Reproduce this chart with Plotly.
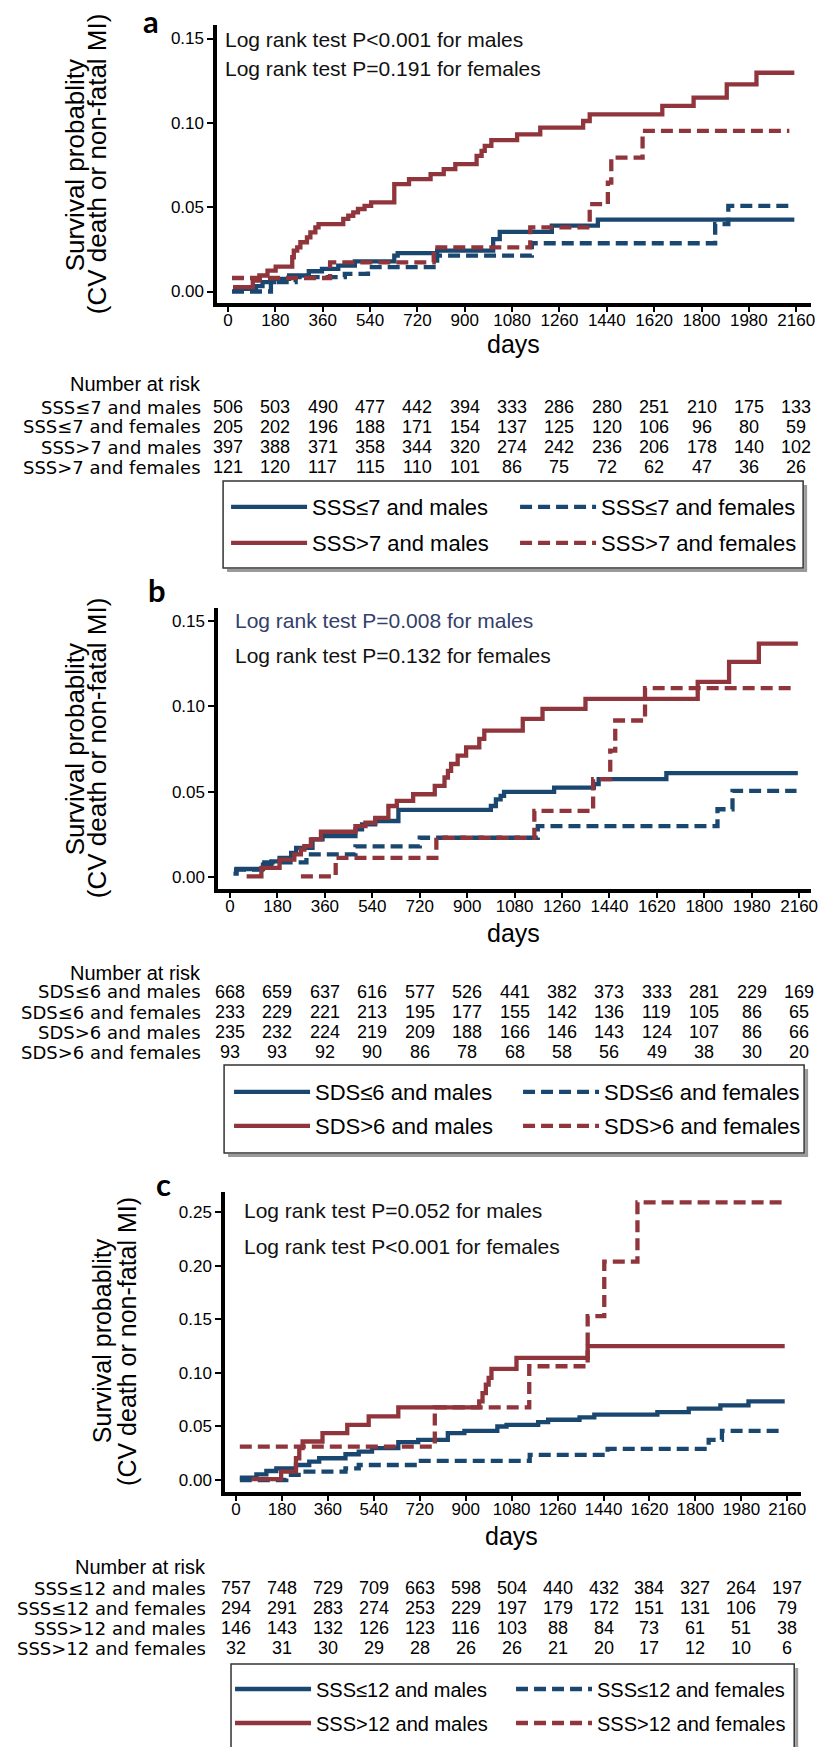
import plotly.graph_objects as go

W, H = 825, 1747
FONT = "Liberation Sans, Arial, sans-serif"
WIDEFONT = "DejaVu Sans, Liberation Sans, sans-serif"
BLUE = "#1a476f"
RED = "#90353b"
DASH = "12px,6px"

# ---------------- data ----------------
day_ticks = [0, 180, 360, 540, 720, 900, 1080, 1260, 1440, 1620, 1800, 1980, 2160]

# Panel a (SSS 7)
a_names = ["SSS≤7 and males", "SSS≤7 and females", "SSS>7 and males", "SSS>7 and females"]
a_lm_days = [19, 106, 131, 175, 232, 307, 357, 419, 482, 632, 645, 795, 1008, 1033, 1231, 1406, 2153]
a_lm_vals = [0.0016, 0.0032, 0.0055, 0.0075, 0.0095, 0.012, 0.0134, 0.0154, 0.0179, 0.0213, 0.0227, 0.0242, 0.0311, 0.0354, 0.039, 0.0426, 0.0426]
a_lf_days = [15, 163, 257, 444, 532, 795, 1155, 1852, 1902, 2134]
a_lf_vals = [0.0, 0.0055, 0.0085, 0.0104, 0.0144, 0.0213, 0.0286, 0.040, 0.0508, 0.0508]
a_hm_days = [19, 94, 119, 150, 181, 244, 250, 263, 275, 300, 313, 332, 344, 438, 457, 476, 494, 519, 544,
             632, 688, 770, 820, 864, 945, 964, 976, 1001, 1099, 1187, 1350, 1375, 1651, 1770, 1896, 2009, 2153]
a_hm_vals = [0.0026, 0.0065, 0.0095, 0.0124, 0.0148, 0.0203, 0.0242, 0.0262, 0.0292, 0.0321, 0.0351, 0.038,
             0.040, 0.043, 0.0449, 0.0469, 0.0489, 0.0508, 0.0528, 0.0637, 0.0666, 0.0696, 0.0725, 0.0755,
             0.0804, 0.0834, 0.0863, 0.0897, 0.0932, 0.0972, 0.1011, 0.105, 0.110, 0.1149, 0.1228, 0.1297, 0.1297]
a_hf_days = [15, 388, 782, 1149, 1375, 1444, 1457, 1576, 2134]
a_hf_vals = [0.008, 0.0173, 0.0262, 0.038, 0.0518, 0.0646, 0.0794, 0.0952, 0.0952]
a_risk = [
    [506, 503, 490, 477, 442, 394, 333, 286, 280, 251, 210, 175, 133],
    [205, 202, 196, 188, 171, 154, 137, 125, 120, 106, 96, 80, 59],
    [397, 388, 371, 358, 344, 320, 274, 242, 236, 206, 178, 140, 102],
    [121, 120, 117, 115, 110, 101, 86, 75, 72, 62, 47, 36, 26],
]
a_tests = ["Log rank test P<0.001 for males", "Log rank test P=0.191 for females"]

# Panel b (SDS 6)
b_names = ["SDS≤6 and males", "SDS≤6 and females", "SDS>6 and males", "SDS>6 and females"]
b_lm_days = [13, 25, 125, 157, 188, 232, 251, 313, 351, 476, 501, 551, 639, 990, 1009, 1027, 1040, 1230, 1381, 1399, 1656, 2155]
b_lm_vals = [0.002, 0.0047, 0.0073, 0.0092, 0.0112, 0.0141, 0.0171, 0.022, 0.024, 0.0279, 0.0308, 0.0328, 0.0393,
             0.0416, 0.0455, 0.0475, 0.0499, 0.0524, 0.0544, 0.0573, 0.0609, 0.0609]
b_lf_days = [15, 130, 290, 476, 720, 1168, 1850, 1907, 2150]
b_lf_vals = [0.0043, 0.0086, 0.0132, 0.018, 0.023, 0.0298, 0.0397, 0.0505, 0.0505]
b_hm_days = [63, 119, 188, 244, 269, 282, 307, 345, 476, 514, 551, 601, 633, 695, 777, 814, 827, 839, 864, 896,
             946, 965, 1111, 1186, 1349, 1775, 1894, 2007, 2155]
b_hm_vals = [0.0004, 0.0053, 0.0102, 0.0132, 0.0161, 0.0181, 0.022, 0.0265, 0.0298, 0.0318, 0.0347, 0.0416,
             0.0446, 0.0485, 0.0534, 0.0583, 0.0622, 0.0662, 0.0711, 0.076, 0.0809, 0.0858, 0.0927, 0.0985,
             0.1044, 0.1143, 0.126, 0.1368, 0.1368]
b_hf_days = [269, 401, 783, 1155, 1378, 1443, 1462, 1575, 2150]
b_hf_vals = [0.0004, 0.0112, 0.023, 0.0387, 0.0573, 0.074, 0.0917, 0.1107, 0.1107]
b_risk = [
    [668, 659, 637, 616, 577, 526, 441, 382, 373, 333, 281, 229, 169],
    [233, 229, 221, 213, 195, 177, 155, 142, 136, 119, 105, 86, 65],
    [235, 232, 224, 219, 209, 188, 166, 146, 143, 124, 107, 86, 66],
    [93, 93, 92, 90, 86, 78, 68, 58, 56, 49, 38, 30, 20],
]
b_tests = ["Log rank test P=0.008 for males", "Log rank test P=0.132 for females"]

# Panel c (SSS 12)
c_names = ["SSS≤12 and males", "SSS≤12 and females", "SSS>12 and males", "SSS>12 and females"]
c_lm_days = [15, 80, 119, 158, 235, 287, 326, 429, 481, 533, 636, 714, 830, 895, 1024, 1060, 1184, 1223, 1346,
             1404, 1651, 1774, 1898, 2008, 2150]
c_lm_vals = [0.0022, 0.0053, 0.0084, 0.0109, 0.014, 0.0172, 0.0203, 0.024, 0.0265, 0.0297, 0.0353, 0.0375,
             0.0437, 0.0459, 0.0499, 0.0515, 0.054, 0.0562, 0.0584, 0.0609, 0.0634, 0.0665, 0.0696, 0.0733, 0.0733]
c_lf_days = [15, 197, 261, 429, 481, 714, 1151, 1456, 1852, 1904, 2140]
c_lf_vals = [0.0, 0.0047, 0.0078, 0.0109, 0.014, 0.0178, 0.0234, 0.029, 0.0375, 0.0459, 0.0459]
c_hm_days = [61, 177, 235, 248, 261, 339, 436, 520, 636, 953, 966, 979, 990, 1001, 1099, 1378, 2150]
c_hm_vals = [0.0009, 0.0078, 0.0203, 0.0297, 0.0359, 0.0437, 0.0515, 0.0593, 0.0677, 0.0733, 0.0811, 0.089,
             0.0952, 0.1036, 0.1139, 0.1248, 0.1248]
c_hf_days = [15, 779, 1149, 1378, 1443, 1573, 2150]
c_hf_vals = [0.0312, 0.0677, 0.1061, 0.1529, 0.2038, 0.259, 0.259]
c_risk = [
    [757, 748, 729, 709, 663, 598, 504, 440, 432, 384, 327, 264, 197],
    [294, 291, 283, 274, 253, 229, 197, 179, 172, 151, 131, 106, 79],
    [146, 143, 132, 126, 123, 116, 103, 88, 84, 73, 61, 51, 38],
    [32, 31, 30, 29, 28, 26, 26, 21, 20, 17, 12, 10, 6],
]
c_tests = ["Log rank test P=0.052 for males", "Log rank test P<0.001 for females"]

y_ticks_ab = [0, 0.05, 0.10, 0.15]
y_ticks_c = [0, 0.05, 0.10, 0.15, 0.20, 0.25]

# ---------------- layout geometry (pixels) ----------------
panels = [
    dict(letter="a", names=a_names, series=[(a_lm_days, a_lm_vals), (a_lf_days, a_lf_vals), (a_hm_days, a_hm_vals), (a_hf_days, a_hf_vals)],
         risk=a_risk, tests=a_tests, test_colors=["#111111", "#111111"], yt=y_ticks_ab,
         dom_x=(219, 818), dom_y=(25, 302.5), x0=230, x1=803, y0=291.5, ytop=38.5, ytopv=0.15,
         letter_xy=(152, None), ytitle=((76, 165), (98, 164), 26), test_x=225, test_y=(39, 69),
         days_xy=(518, 344), nar_y=384, label_r=205, rows=(407, 427, 447, 467),
         frame=(225, 810, 481, 568), leg_x=228, leg_rows=(507, 543), entryw=198, legfont=22,
         lnames=("legend", "legend2")),
    dict(letter="b", names=b_names, series=[(b_lm_days, b_lm_vals), (b_lf_days, b_lf_vals), (b_hm_days, b_hm_vals), (b_hf_days, b_hf_vals)],
         risk=b_risk, tests=b_tests, test_colors=["#33406b", "#111111"], yt=y_ticks_ab,
         dom_x=(220, 818), dom_y=(608, 888.5), x0=232, x1=806, y0=877, ytop=621, ytopv=0.15,
         letter_xy=(158, 590), ytitle=((76, 749), (98, 748), 26), test_x=235, test_y=(621, 655),
         days_xy=(518, 933), nar_y=973, label_r=205, rows=(992, 1012, 1032, 1052),
         frame=(226, 811, 1065, 1153), leg_x=231, leg_rows=(1092, 1126), entryw=198, legfont=22,
         lnames=("legend3", "legend4")),
    dict(letter="c", names=c_names, series=[(c_lm_days, c_lm_vals), (c_lf_days, c_lf_vals), (c_hm_days, c_hm_vals), (c_hf_days, c_hf_vals)],
         risk=c_risk, tests=c_tests, test_colors=["#111111", "#111111"], yt=y_ticks_c,
         dom_x=(227, 808), dom_y=(1192, 1491.5), x0=238, x1=794, y0=1480, ytop=1212, ytopv=0.25,
         letter_xy=(165, 1184), ytitle=((103, 1341), (128, 1341), 25), test_x=244, test_y=(1210, 1246),
         days_xy=(516, 1536), nar_y=1567, label_r=210, rows=(1588, 1608, 1628, 1648),
         frame=(233, 801, 1664, 1760), leg_x=232, leg_rows=(1689, 1723), entryw=190, legfont=20,
         lnames=("legend5", "legend6")),
]

styles = [(BLUE, "solid"), (BLUE, DASH), (RED, "solid"), (RED, DASH)]


def px(x):
    return x / W


def py(y):
    return 1 - y / H


fig = go.Figure()
annotations = []
shapes = []
layout_extra = {}

for i, p in enumerate(panels):
    sfx = "" if i == 0 else str(i + 1)
    xa, ya = "x" + sfx, "y" + sfx
    xs = (p["x1"] - p["x0"]) / 2160.0
    xr = [(p["dom_x"][0] - p["x0"]) / xs, (p["dom_x"][1] - p["x0"]) / xs]
    ys = (p["y0"] - p["ytop"]) / p["ytopv"]
    yr = [(p["y0"] - p["dom_y"][1]) / ys, (p["y0"] - p["dom_y"][0]) / ys]

    for k, ((d, v), name, (col, dash)) in enumerate(zip(p["series"], p["names"], styles)):
        fig.add_trace(go.Scatter(
            x=d, y=v, mode="lines", name=name,
            line=dict(shape="hv", color=col, width=4.3, dash=dash),
            xaxis=xa, yaxis=ya, legend=p["lnames"][k // 2], hoverinfo="skip"))

    axis_common = dict(showgrid=False, zeroline=False, showline=True, linecolor="black", linewidth=3.5,
                       ticks="outside", ticklen=6, tickwidth=1.5, tickcolor="black",
                       tickfont=dict(family=FONT, size=17, color="black"), fixedrange=True)
    layout_extra["xaxis" + sfx] = dict(axis_common, domain=[px(p["dom_x"][0]), px(p["dom_x"][1])],
                                       range=xr, tickvals=day_ticks, anchor=ya, ticklabelstandoff=-7)
    layout_extra["yaxis" + sfx] = dict(axis_common, domain=[py(p["dom_y"][1]), py(p["dom_y"][0])],
                                       range=yr, tickvals=p["yt"], tickformat=".2f", anchor=xa)

    lx, ly = p["letter_xy"]
    if ly is None:
        annotations.append(dict(text="<b>%s</b>" % p["letter"], x=px(lx), y=1, xref="paper", yref="paper",
                                showarrow=False, xanchor="center", yanchor="top",
                                font=dict(family="Lato, Open Sans, sans-serif", size=31, color="black")))
    else:
        annotations.append(dict(text="<b>%s</b>" % p["letter"], x=px(lx), y=py(ly), xref="paper", yref="paper",
                                showarrow=False, xanchor="center", yanchor="middle",
                                font=dict(family="Lato, Open Sans, sans-serif", size=31, color="black")))
    (l1x, l1y), (l2x, l2y), fs = p["ytitle"]
    for txt, tx, ty in [("Survival probablity", l1x, l1y), ("(CV death or non-fatal MI)", l2x, l2y)]:
        annotations.append(dict(text=txt, x=px(tx), y=py(ty), xref="paper", yref="paper", showarrow=False,
                                textangle=-90, xanchor="center", yanchor="middle",
                                font=dict(family=FONT, size=fs, color="black")))
    for txt, col, ty in zip(p["tests"], p["test_colors"], p["test_y"]):
        annotations.append(dict(text=txt, x=px(p["test_x"]), y=py(ty), xref="paper", yref="paper",
                                showarrow=False, xanchor="left", yanchor="middle",
                                font=dict(family=FONT, size=21, color=col)))
    annotations.append(dict(text="days", x=px(p["days_xy"][0]), y=py(p["days_xy"][1]), xref="paper", yref="paper",
                            showarrow=False, xanchor="center", yanchor="middle",
                            font=dict(family=FONT, size=25, color="black")))
    annotations.append(dict(text="Number at risk", x=px(p["label_r"]), y=py(p["nar_y"]), xref="paper", yref="paper",
                            showarrow=False, xanchor="right", yanchor="middle",
                            font=dict(family=FONT, size=20, color="black")))
    for name, counts, ry in zip(p["names"], p["risk"], p["rows"]):
        annotations.append(dict(text=name, x=px(p["label_r"]), y=py(ry), xref="paper", yref="paper",
                                showarrow=False, xanchor="right", yanchor="middle",
                                font=dict(family=WIDEFONT, size=18, color="black")))
        for dtick, n in zip(day_ticks, counts):
            annotations.append(dict(text=str(n), x=dtick, y=py(ry), xref=xa, yref="paper",
                                    showarrow=False, xanchor="center", yanchor="middle",
                                    font=dict(family=FONT, size=18, color="black")))

    for lname, ry in zip(p["lnames"], p["leg_rows"]):
        layout_extra[lname] = dict(x=px(p["leg_x"]), y=py(ry), xanchor="left", yanchor="middle",
                                   orientation="h", entrywidth=p["entryw"], entrywidthmode="pixels", itemwidth=76,
                                   traceorder="normal", font=dict(family=FONT, size=p["legfont"], color="black"),
                                   borderwidth=0, bgcolor="rgba(0,0,0,0)")
    fl, fr, ft, fb = p["frame"]
    shapes.append(dict(type="line", xref="paper", yref="paper", x0=px(fr + 2.5), x1=px(fr + 2.5),
                       y0=py(ft + 4), y1=py(fb + 2.5), line=dict(color="#9a9a9a", width=3), layer="below"))
    shapes.append(dict(type="line", xref="paper", yref="paper", x0=px(fl + 4), x1=px(fr + 4),
                       y0=py(fb + 2.5), y1=py(fb + 2.5), line=dict(color="#9a9a9a", width=3), layer="below"))
    shapes.append(dict(type="rect", xref="paper", yref="paper", x0=px(fl), x1=px(fr), y0=py(fb), y1=py(ft),
                       line=dict(color="#333333", width=1.5), fillcolor="white", layer="below"))

fig.update_layout(
    width=W, height=H, autosize=False,
    margin=dict(l=0, r=0, t=0, b=0),
    paper_bgcolor="white", plot_bgcolor="white",
    showlegend=True,
    annotations=annotations,
    shapes=shapes,
    **layout_extra,
)

# remove the default 8px page margin so the figure sits exactly in the 825x1747 window
fig.write_html("out.html", config={"displayModeBar": False},
               post_script="document.body.style.margin='0';")
